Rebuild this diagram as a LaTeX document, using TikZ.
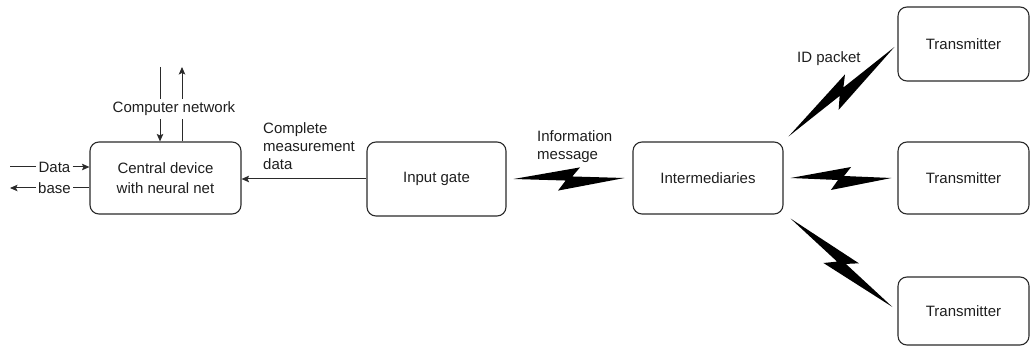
\documentclass[tikz,border=0pt]{standalone}
\usepackage{fontspec}
\setmainfont{Liberation Sans}
\usetikzlibrary{calc,arrows.meta}
\definecolor{ink}{HTML}{1E1E1E}
\definecolor{edge}{HTML}{2A2A2A}
\tikzset{
  unit/.style={draw=edge, line width=1.1pt, rounded corners=9pt, align=center,
    text=ink, font=\fontsize{15}{20}\selectfont, inner sep=0pt},
  lbl/.style={text=ink, font=\fontsize{15}{18}\selectfont, inner sep=0pt},
  wire/.style={draw=edge, line width=1pt},
  arr/.style={wire, -{Stealth[length=7.5pt,width=6.5pt,inset=1.5pt]}},
  boltfill/.style={fill=black},
}
% Z-shaped radio link between two points (thin tips, jog in the middle)
\newcommand\zbolt[2]{%
  \fill[boltfill] (#1)
    -- ($(#1)!0.6!(#2)!11pt!90:(#2)$)
    -- ($(#1)!0.53!(#2)!2pt!90:(#2)$)
    -- (#2)
    -- ($(#1)!0.4!(#2)!12pt!-90:(#2)$)
    -- ($(#1)!0.47!(#2)!2pt!-90:(#2)$)
    -- cycle;}
\begin{document}
\begin{tikzpicture}[x=1pt,y=-1pt]
\useasboundingbox (0,0) rectangle (1030,347);

% blocks
\node[unit, minimum width=151pt, minimum height=72pt] (central) at (165.5,178) {Central device\\with neural net};
\node[unit, minimum width=139pt, minimum height=74pt] (input) at (436.5,179) {Input gate};
\node[unit, minimum width=150pt, minimum height=72pt] (inter) at (708,178) {Intermediaries};
\node[unit, minimum width=131pt, minimum height=74pt] (t1) at (963.5,44) {Transmitter};
\node[unit, minimum width=131pt, minimum height=72pt] (t2) at (963.5,178) {Transmitter};
\node[unit, minimum width=131pt, minimum height=68pt] (t3) at (963.5,311) {Transmitter};

% labels
\node[lbl, inner sep=3pt] (cn) at (174,109) {Computer network};
\node[lbl, inner sep=2pt] (data) at (54.5,167) {Data};
\node[lbl, inner sep=2pt] (base) at (54.5,188) {base};
\node[lbl, align=left, anchor=north west] (cmd) at (263,122) {Complete\\measurement\\data};
\node[lbl, align=left, anchor=north west] (info) at (537,130) {Information\\message};
\node[lbl, anchor=north west] (idp) at (797,51) {ID packet};

% computer network link
\coordinate (cnL) at (160,67);
\coordinate (cnR) at (182,67);
\draw[wire] (cnL) -- (cnL |- cn.north);
\draw[arr] (cnL |- cn.south) -- (cnL |- central.north);
\draw[arr] (cnR |- cn.north) -- (cnR);
\draw[wire] (cnR |- central.north) -- (cnR |- cn.south);

% data base link
\coordinate (dataIn) at (10,167);
\coordinate (baseOut) at (10,188);
\draw[wire] (dataIn) -- (data.west);
\draw[arr] (data.east) -- (data.east -| central.west);
\draw[wire] (base.east -| central.west) -- (base.east);
\draw[arr] (base.west) -- (baseOut);

% measurement data
\draw[arr] (input.west) -- (input.west -| central.east);

% radio links
\coordinate (r1a) at ($(input.east)+(7,0)$);
\coordinate (r1b) at ($(inter.west)+(-8,0)$);
\zbolt{r1a}{r1b}
\coordinate (r2a) at ($(inter.east)+(7,0)$);
\coordinate (r2b) at ($(t2.west)+(-6,0)$);
\zbolt{r2a}{r2b}
\coordinate (r3a) at ($(inter.north east)+(5,-5)$);
\coordinate (r3b) at ($(t1.west)+(-3,3)$);
\zbolt{r3a}{r3b}
\coordinate (r4a) at ($(inter.south east)+(7,4)$);
\coordinate (r4b) at ($(t3.west)+(-5,-4)$);
\zbolt{r4a}{r4b}
\end{tikzpicture}
\end{document}
